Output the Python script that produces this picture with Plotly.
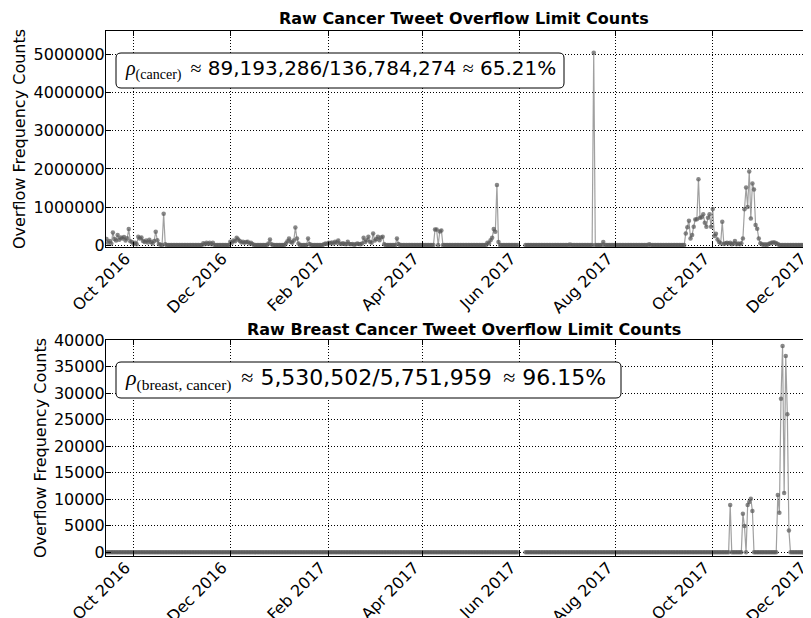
import pandas as pd
import plotly.graph_objects as go

start_date = "2016-09-14"
range_start = "2016-09-13 16:00"
range_end = "2017-12-06 23:00"

# Raw cancer overflow counts (thousands), one value per day
cancer_sep16 = [160, 60, 110, 40, 330, 160, 120, 265, 140, 200, 170, 210, 120, 180, 420, 100, 80]
cancer_oct16 = [30, 60, 20, 220, 170, 200, 110, 80, 120, 70, 140, 80, 40, 110, 350, 130, 30, 10, 0, 820,
                20, 0, 0, 0, 0, 0, 0, 0, 0, 0, 0]
cancer_nov16 = [0, 0, 0, 0, 0, 0, 0, 0, 0, 0, 0, 0, 0, 50, 20, 60, 30, 60, 20, 60,
                0, 0, 0, 0, 0, 0, 0, 0, 0, 0]
cancer_dec16 = [88, 60, 120, 100, 195, 150, 110, 70, 90, 60, 80, 90, 40, 60, 30, 0, 0, 0, 0, 0,
                0, 0, 0, 0, 40, 150, 20, 0, 0, 0, 0]
cancer_jan17 = [0, 0, 0, 0, 40, 100, 175, 90, 60, 120, 460, 175, 40, 0, 0, 0, 0, 0, 175, 30,
                0, 0, 0, 0, 0, 0, 0, 0, 20, 40, 30]
cancer_feb17 = [60, 50, 70, 40, 90, 60, 120, 40, 30, 50, 30, 20, 88, 30, 20, 30, 10, 20, 40, 30,
                20, 40, 193, 80, 130, 220, 90, 60]
cancer_mar17 = [307, 120, 160, 220, 130, 200, 220, 20, 0, 0, 0, 0, 0, 0, 0, 175, 30, 0, 0, 0,
                0, 0, 0, 0, 0, 0, 0, 0, 0, 0, 0]
cancer_apr17 = [0, 0, 0, 0, 0, 0, 0, 0, 412, 412, 0, 360, 386, 0, 0, 0, 0, 0, 0, 0,
                0, 0, 0, 0, 0, 0, 0, 0, 0, 0]
cancer_may17 = [0, 0, 0, 0, 0, 0, 0, 0, 0, 0, 0, 60, 40, 130, 190, 420, 350, 1580, 80, 0,
                0, 0, 0, 0, 0, 0, 0, 0, 0, 0, 0]
cancer_jun17 = [None, None, None, None, 0, 0, 0, 0, 0, 0, 0, 0, 0, 0, 0, 0, 0, 0, 0, 0,
                0, 0, 0, 0, 0, 0, 0, 0, 0, 0]
cancer_jul17 = [0, 0, 15, 0, 0, 0, 0, 0, 0, 0, 0, 0, 0, 0, 0, 0, 0, 5050, 0, 0,
                0, 0, 0, 80, 0, 0, 0, 0, 0, 0, 0]
cancer_aug17 = [0, 0, 0, 0, 0, 0, 0, 0, 0, 0, 0, 0, 0, 0, 0, 0, 0, 0, 0, 0,
                0, 20, 0, 0, 0, 0, 0, 0, 0, 0, 0]
cancer_sep17 = [0, 0, 0, 0, 0, 0, 0, 0, 0, 0, 0, 0, 0, 307, 470, 640, 175, 263, 482, 675,
                680, 1730, 720, 730, 807, 588, 482, 720, 807, 480]
cancer_oct17 = [947, 237, 300, 150, 80, 50, 614, 30, 50, 60, 40, 60, 20, 40, 105, 20, 40, 20, 50, 175,
                940, 1510, 1000, 1930, 700, 1620, 1460, 526, 430, 175, 50]
cancer_nov17 = [20, 10, 20, 0, 30, 40, 60, 70, 70, 50, 30, 0, 0, 0, 0, 0, 0, 0, 0, 0,
                0, 0, 0, 0, 0, 0, 0, 0, 0, 0]
cancer_dec17 = [0, 0, 0, 0, 0, 0, 0]

# Raw breast cancer overflow counts, one value per day
breast_sep16 = [0] * 17
breast_oct16 = [0] * 31
breast_nov16 = [0] * 30
breast_dec16 = [0] * 31
breast_jan17 = [0] * 31
breast_feb17 = [0] * 28
breast_mar17 = [0] * 31
breast_apr17 = [0] * 30
breast_may17 = [0] * 31
breast_jun17 = [None, None, None, None, 0, 0, 0, 0, 0, 0, 0, 0, 0, 0, 0, 0, 0, 0, 0, 0,
                0, 0, 0, 0, 0, 0, 0, 0, 0, 0]
breast_jul17 = [0] * 31
breast_aug17 = [0] * 31
breast_sep17 = [0] * 30
breast_oct17 = [0, 0, 0, 0, 0, 0, 0, 0, 0, 0, 0, 8900, 0, 0, 0, 0, 0, 0, 0, 7270,
                4930, 0, 8900, 9480, 10100, 7770, 0, 0, 0, 0, 0]
breast_nov17 = [0, 0, 0, 0, 0, 0, 0, 0, 0, 0, 10800, 7460, 28940, 38860, 11180, 36970, 26030, 4100, 0, 0,
                0, 0, 0, 0, 0, 0, 0, 0, 0, 0]
breast_dec17 = [0, 0, 0, 0, 0, 0, 0]

cancer_k = (cancer_sep16 + cancer_oct16 + cancer_nov16 + cancer_dec16 + cancer_jan17 + cancer_feb17
            + cancer_mar17 + cancer_apr17 + cancer_may17 + cancer_jun17 + cancer_jul17 + cancer_aug17
            + cancer_sep17 + cancer_oct17 + cancer_nov17 + cancer_dec17)
cancer = [None if v is None else v * 1000 for v in cancer_k]
breast = (breast_sep16 + breast_oct16 + breast_nov16 + breast_dec16 + breast_jan17 + breast_feb17
          + breast_mar17 + breast_apr17 + breast_may17 + breast_jun17 + breast_jul17 + breast_aug17
          + breast_sep17 + breast_oct17 + breast_nov17 + breast_dec17)
dates = pd.date_range(start_date, periods=len(cancer), freq="D")

top_ticks = [0, 1000000, 2000000, 3000000, 4000000, 5000000]
bottom_ticks = [0, 5000, 10000, 15000, 20000, 25000, 30000, 35000, 40000]

titles = ["Raw Cancer Tweet Overflow Limit Counts", "Raw Breast Cancer Tweet Overflow Limit Counts"]
rho_labels = ["(cancer)", "(breast, cancer)"]
ratio_texts = ["89,193,286/136,784,274", "5,530,502/5,751,959"]
pct_texts = ["65.21%", "96.15%"]

# ---- layout geometry (figure pixels; the page adds an 8px body margin) ----
W, H = 813, 610
ML, MR, MT, MB = 98, 2, 23, 62
PW, PH = W - ML - MR, H - MT - MB


def px(fx):
    return (fx - ML) / PW


def py(fy):
    return (H - MB - fy) / PH


LINE = dict(color="rgba(128,128,128,0.75)", width=1.2)
MARK = dict(size=4.5, color="rgba(90,90,90,0.72)")

fig = go.Figure()
fig.add_trace(go.Scatter(x=dates, y=cancer, mode="lines+markers", line=LINE, marker=MARK,
                         xaxis="x", yaxis="y", connectgaps=False))
fig.add_trace(go.Scatter(x=dates, y=breast, mode="lines+markers", line=LINE, marker=MARK,
                         xaxis="x2", yaxis="y2", connectgaps=False))

GRID = dict(showgrid=True, gridcolor="black", gridwidth=1, griddash="1px,2px", zeroline=False,
            showline=True, linecolor="black", linewidth=1, ticks="inside", ticklen=5,
            tickcolor="black", tickfont=dict(size=16, color="black"), automargin=False,
            mirror="ticks")

xcommon = dict(type="date", range=[range_start, range_end], tick0="2016-10-01", dtick="M2",
               tickformat="%b %Y", tickangle=-45, ticklabeloverflow="allow",
               ticklabelshift=-8, ticklabelstandoff=-5, **GRID)
ytitle = dict(text="Overflow Frequency Counts", standoff=3, font=dict(size=16))
fig.update_layout(
    width=W, height=H,
    margin=dict(l=ML, r=MR, t=MT, b=MB),
    paper_bgcolor="white", plot_bgcolor="white",
    font=dict(family="DejaVu Sans", size=16, color="black"),
    showlegend=False,
    xaxis=dict(domain=[0, 1], anchor="y", **xcommon),
    xaxis2=dict(domain=[0, 1], anchor="y2", **xcommon),
    yaxis=dict(domain=[py(239), 1], anchor="x", range=[-50000, 5620000], tickvals=top_ticks,
               ticktext=[str(v) for v in top_ticks], ticklabelstandoff=-3, title=ytitle, **GRID),
    yaxis2=dict(domain=[0, py(332)], anchor="x2", range=[-700, 40000], tickvals=bottom_ticks,
                ticktext=[str(v) for v in bottom_ticks], ticklabelstandoff=-3, title=ytitle, **GRID),
)

title_fy = [11, 321]
box_px = [(108, 556, 45, 80), (108, 613, 354, 390)]
box_font = [20, 22]
gap2 = [" ", " \u2009"]
R = 5
for i in range(2):
    fig.add_annotation(xref="paper", yref="paper", x=px(455.5), y=py(title_fy[i]), xanchor="center",
                       yanchor="middle", showarrow=False, text="<b>" + titles[i] + "</b>",
                       font=dict(size=16, family="DejaVu Sans", color="black"))
    x0, x1, y0, y1 = box_px[i]
    rx, ry = R / PW, R / PH
    X0, X1, Y0, Y1 = px(x0), px(x1), py(y0), py(y1)
    path = (f"M {X0 + rx},{Y0} L {X1 - rx},{Y0} Q {X1},{Y0} {X1},{Y0 - ry} "
            f"L {X1},{Y1 + ry} Q {X1},{Y1} {X1 - rx},{Y1} L {X0 + rx},{Y1} "
            f"Q {X0},{Y1} {X0},{Y1 + ry} L {X0},{Y0 - ry} Q {X0},{Y0} {X0 + rx},{Y0} Z")
    fig.add_shape(type="path", xref="paper", yref="paper", path=path,
                  line=dict(color="black", width=1), fillcolor="white", layer="above")
    txt = ('<span style="font-family:\'Liberation Serif\'"><i>\u03c1</i><sub>' + rho_labels[i]
           + '</sub> \u2009\u2248</span> ' + ratio_texts[i]
           + gap2[i] + '<span style="font-family:\'Liberation Serif\'">\u2248</span> ' + pct_texts[i])
    fig.add_annotation(xref="paper", yref="paper", x=px(x0 + 7), y=py((y0 + y1) / 2 - 1),
                       xanchor="left", yanchor="middle", showarrow=False, text=txt, align="left",
                       font=dict(size=box_font[i], family="DejaVu Sans", color="black"))

fig.write_html("out.html")
